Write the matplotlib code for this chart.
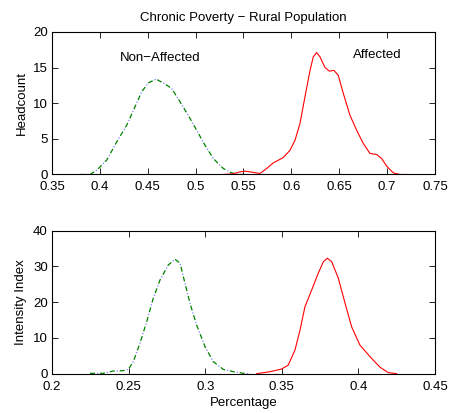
import matplotlib
matplotlib.use("Agg")
import matplotlib.pyplot as plt
from matplotlib.ticker import FormatStrFormatter

plt.rcParams['font.family'] = ['Liberation Sans', 'DejaVu Sans']
plt.rcParams['font.size'] = 9.5
plt.rcParams['lines.scale_dashes'] = False

# headcount: non-affected (green) and affected (red)
hc_non_x = [0.3792, 0.3897, 0.3967, 0.4071, 0.4176, 0.428, 0.4367, 0.4437, 0.4506,
            0.4586, 0.4662, 0.475, 0.4837, 0.4923, 0.5011, 0.5098, 0.5185, 0.5289,
            0.5377, 0.5463, 0.555]
hc_non_y = [0.0, 0.0, 0.6, 2.0, 4.57, 6.9, 9.5, 11.6, 12.85,
            13.37, 12.85, 12.06, 10.2, 8.3, 6.2, 4.1, 2.24, 0.84,
            0.22, 0.0, 0.0]
hc_aff_x = [0.529, 0.539, 0.546, 0.5516, 0.558, 0.5672, 0.5742, 0.5811, 0.5916,
            0.5986, 0.6038, 0.609, 0.6142, 0.6195, 0.6229, 0.6264, 0.6299, 0.6351,
            0.6396, 0.6445, 0.649, 0.6542, 0.6612, 0.6682, 0.6751, 0.6821, 0.6891,
            0.6943, 0.6996, 0.7065, 0.7134, 0.7204]
hc_aff_y = [0.0, 0.1, 0.35, 0.47, 0.35, 0.14, 0.84, 1.63, 2.38,
            3.4, 4.81, 7.15, 10.9, 14.6, 16.5, 17.1, 16.5, 15.0,
            14.5, 14.6, 13.9, 11.4, 8.3, 6.2, 4.35, 2.95, 2.8,
            2.24, 1.16, 0.22, 0.0, 0.0]

# intensity index
ii_non_x = [0.2248, 0.2335, 0.24, 0.2465, 0.2498, 0.2531, 0.2574, 0.2618, 0.2661,
            0.2705, 0.2759, 0.2803, 0.2836, 0.2868, 0.2901, 0.2944, 0.2999, 0.3053,
            0.3118, 0.3184, 0.3249, 0.3292]
ii_non_y = [0.1, 0.1, 0.75, 0.84, 1.2, 3.36, 8.5, 14.5, 21.1,
            26.2, 30.4, 32.0, 30.9, 25.3, 19.7, 13.6, 7.55, 3.36,
            1.2, 0.56, 0.1, 0.0]
ii_aff_x = [0.3336, 0.3423, 0.3499, 0.3542, 0.3586, 0.3619, 0.3651, 0.3695, 0.3738,
            0.3771, 0.3797, 0.3826, 0.3869, 0.3913, 0.3956, 0.401, 0.4076, 0.4141,
            0.4195, 0.425]
ii_aff_y = [0.0, 0.56, 1.3, 2.4, 6.6, 12.2, 18.7, 23.4, 28.1,
            31.3, 32.3, 31.3, 26.7, 19.7, 13.1, 8.0, 4.75, 1.8,
            0.3, 0.0]

top_xticks = [0.35, 0.4, 0.45, 0.5, 0.55, 0.6, 0.65, 0.7, 0.75]
top_yticks = [0, 5, 10, 15, 20]
bot_xticks = [0.2, 0.25, 0.3, 0.35, 0.4, 0.45]
bot_yticks = [0, 10, 20, 30, 40]

green = (0, 0.5, 0)
dotblue = (0.55, 0.55, 1.0)
red = (1, 0, 0)

fig = plt.figure(figsize=(4.49, 4.13), dpi=100)
ax1 = fig.add_axes([0.1158, 0.5775, 0.853, 0.3453])
ax2 = fig.add_axes([0.1158, 0.0952, 0.853, 0.3462])


def style(ax, xt, yt):
    ax.set_xticks(xt)
    ax.set_yticks(yt)
    ax.set_xlim(xt[0], xt[-1])
    ax.set_ylim(yt[0], yt[-1])
    ax.xaxis.set_major_formatter(FormatStrFormatter('%g'))
    ax.tick_params(direction='in', top=True, right=True, length=4, width=0.6,
                   labelsize=9.5)
    ax.tick_params(axis='x', pad=5)
    ax.tick_params(axis='y', pad=3)
    for s in ax.spines.values():
        s.set_linewidth(0.8)


def dashdot(ax, x, y):
    # green dashes with faint blue dots in the gaps
    ax.plot(x, y, color=green, lw=0.9, ls=(0, (3.6, 3.6)))
    ax.plot(x, y, color=dotblue, lw=0.9, ls=(2.2, (1.0, 6.2)))


dashdot(ax1, hc_non_x, hc_non_y)
ax1.plot(hc_aff_x, hc_aff_y, color=red, lw=0.8)
style(ax1, top_xticks, top_yticks)
ax1.set_ylabel('Headcount')
ax1.set_title('Chronic Poverty \u2212 Rural Population', fontsize=9.5, pad=8)
ax1.text(0.421, 16.3, 'Non\u2212Affected', va='center', ha='left')
ax1.text(0.664, 16.8, 'Affected', va='center', ha='left')

dashdot(ax2, ii_non_x, ii_non_y)
ax2.plot(ii_aff_x, ii_aff_y, color=red, lw=0.8)
style(ax2, bot_xticks, bot_yticks)
ax2.set_ylabel('Intensity Index')
ax2.set_xlabel('Percentage', labelpad=3)

fig.savefig('out.png', dpi=100)
